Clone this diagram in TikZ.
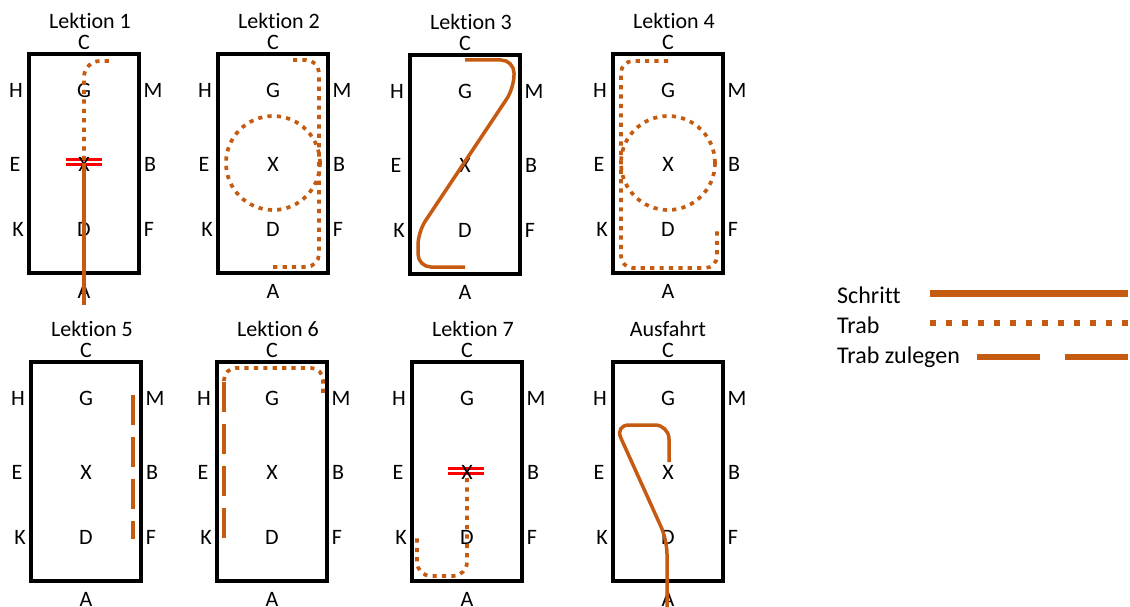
\documentclass[tikz,border=0pt]{standalone}
\usepackage{fontspec}
\setmainfont{Carlito}[Ligatures=NoCommon]
\definecolor{track}{HTML}{C55A11}
% one dressage arena: #1 name prefix, #2/#3 top-left corner, #4 title, #5 title shift
\newcommand{\arena}[5]{%
  \draw[arenabox] (#2,#3) rectangle ++(110,219);
  \node[lbl] (#1title) at (#2+55+#5,#3-33) {#4};
  \node[lbl] (#1C) at (#2+55,#3-12) {C};
  \node[lbl] (#1H) at (#2-13,#3+36.5) {H};
  \node[lbl] (#1G) at (#2+55,#3+36.5) {G};
  \node[lbl] (#1M) at (#2+124,#3+36.5) {M};
  \node[lbl] (#1E) at (#2-14,#3+110) {E};
  \node[lbl] (#1X) at (#2+55,#3+110) {X};
  \node[lbl] (#1B) at (#2+121,#3+110) {B};
  \node[lbl] (#1K) at (#2-11,#3+175) {K};
  \node[lbl] (#1D) at (#2+55,#3+175) {D};
  \node[lbl] (#1F) at (#2+120,#3+175) {F};
  \node[lbl] (#1A) at (#2+55,#3+237) {A};
}
\begin{document}
\begin{tikzpicture}[x=1pt,y=-1pt,
  arenabox/.style={draw=black,line width=4pt},
  lbl/.style={inner sep=0pt,font=\fontsize{22}{26}\selectfont},
  legtext/.style={inner sep=0pt,anchor=west,font=\fontsize{24}{28}\selectfont},
  schritt/.style={draw=track,line width=3.5pt},
  trab/.style={draw=track,line width=3.7pt,dash pattern=on 4.2pt off 5.2pt},
  zulegen/.style={draw=track,line width=4pt,dash pattern=on 30pt off 12pt},
  halt/.style={draw=red,line width=2.5pt,double=white,double distance=2.5pt},
]
\useasboundingbox (0,0) rectangle (1130,607);

% halt markers at X
\draw[halt] (66,162) -- (102,162);
\draw[halt] (448,471) -- (484,471);

% arenas
\arena{a}{29}{54}{Lektion 1}{6}
\arena{b}{218}{54}{Lektion 2}{6}
\arena{c}{410}{55}{Lektion 3}{6}
\arena{d}{613}{54}{Lektion 4}{6}
\arena{e}{31}{362}{Lektion 5}{6}
\arena{f}{217}{362}{Lektion 6}{6}
\arena{g}{412}{362}{Lektion 7}{6}
\arena{h}{613}{362}{Ausfahrt}{0}

% Lektion 1
\draw[schritt] (84,163) -- (84,305);
\draw[trab,rounded corners=16pt] (84,160) -- (84,61) -- (111,61);
% Lektion 2
\draw[trab] (273,163) circle[radius=47pt];
\draw[trab,rounded corners=13pt] (293,60) -- (319,60) -- (319,267) -- (272,267);
% Lektion 3
\draw[schritt,rounded corners=13pt] (465,60) -- (514,60) -- (514,88) -- (418,232) -- (418,267) -- (465,267);
% Lektion 4
\draw[trab] (668,163) circle[radius=47pt];
\draw[trab,rounded corners=12pt] (668,61) -- (621,61) -- (621,268) -- (717,268) -- (717,228);
% Lektion 5
\draw[zulegen] (133,395) -- (133,539);
% Lektion 6
\draw[zulegen] (224,538) -- (224,381);
\draw[trab,rounded corners=12pt] (224,381) -- (224,368) -- (323,368) -- (323,397);
% Lektion 7
\draw[trab,rounded corners=14pt] (467,478) -- (467,576) -- (417,576) -- (417,535);
% Ausfahrt
\draw[schritt,rounded corners=14pt] (669,462) -- (669,425) -- (615,425) -- (667,540) -- (667,607);

% legend
\node[legtext] (l1) at (837,295) {Schritt};
\node[legtext] (l2) at (837,325) {Trab};
\node[legtext] (l3) at (837,357) {Trab zulegen};
\draw[draw=track,line width=7pt] (930,293) -- (1128,293);
\draw[draw=track,line width=6pt,dash pattern=on 6pt off 10pt] (930,323) -- (1128,323);
\draw[draw=track,line width=6pt,dash pattern=on 63pt off 25pt] (977,357) -- (1128,357);
\end{tikzpicture}
\end{document}
